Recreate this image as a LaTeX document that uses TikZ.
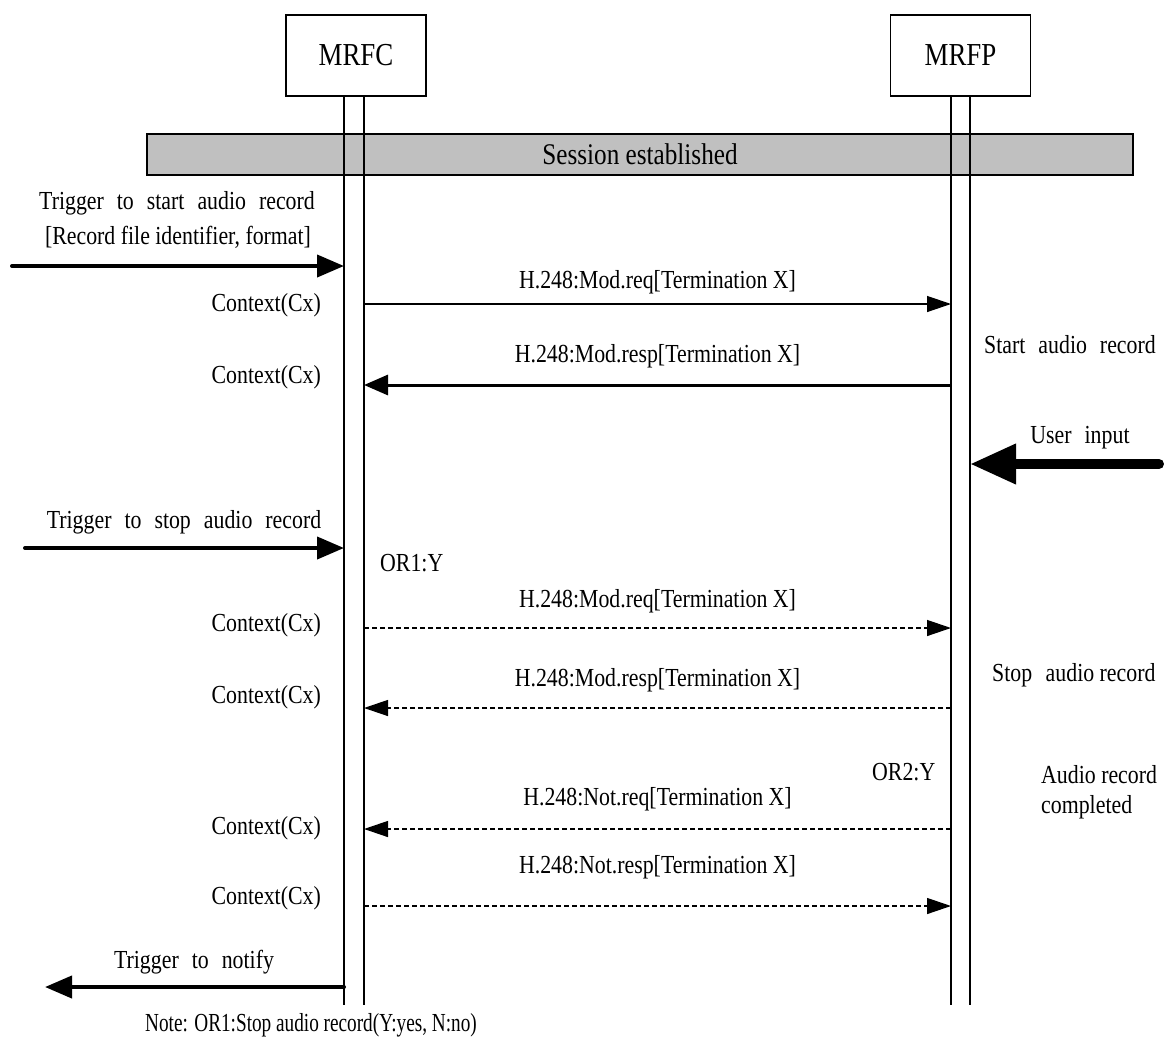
\documentclass[tikz,border=0pt]{standalone}
\usepackage{fontspec}
\setmainfont{Liberation Serif}[FakeStretch=0.84]
\newfontfamily\notefont{Liberation Serif}[FakeStretch=0.74]
\usetikzlibrary{positioning,arrows.meta}
\newcommand\widesp{\spaceskip 13pt\relax}

\begin{document}
\begin{tikzpicture}[x=1pt,y=-1pt]
	\tikzstyle{entity} = [rectangle, draw, line width=1.3pt, minimum width=140pt, minimum height=81pt, font=\fontsize{32}{36}\selectfont];
	\tikzstyle{bar} = [rectangle, draw, line width=1.3pt, fill={rgb,255:red,192;green,192;blue,192}, minimum width=986pt, minimum height=41pt, font=\fontsize{30}{34}\selectfont];
	\tikzstyle{txt} = [inner sep=0pt, font=\fontsize{26}{30}\selectfont];
	\tikzstyle{wide} = [inner sep=0pt, font=\fontsize{26}{30}\selectfont\widesp];
	\tikzstyle{life} = [draw, line width=1.3pt];
	\tikzstyle{msg} = [draw, line width=1.3pt, -{Triangle[length=24pt, width=16pt]}];
	\tikzstyle{dmsg} = [msg, dash pattern=on 5pt off 3pt];
	\tikzstyle{respmsg} = [draw, line width=3pt, -{Triangle[length=24pt, width=20pt]}];
	\tikzstyle{trigger} = [draw, line width=4pt, line cap=round, -{Triangle[length=27pt, width=22pt]}];
	\tikzstyle{userin} = [draw, line width=10pt, line cap=round, -{Triangle[length=46pt, width=38pt]}];
	\useasboundingbox (0,0) rectangle (1164,1039);
	% entities and session bar
	\node (mrfc) [entity] at (356,55.5) {MRFC};
	\node (mrfp) [entity] at (960.5,55.5) {MRFP};
	\node (session) [bar] at (640,154.5) {Session established};
	% lifelines
	\foreach \n/\x in {c1/344, c2/364, p1/951, p2/970} {
		\coordinate (\n) at (\x,96);
		\coordinate (\n end) at (\x,1005);
		\path [life] (\n) -- (\n end);
	}
	% message rows
	\coordinate (inA) at (12,266);
	\coordinate (r1) at (0,304);
	\coordinate (r2) at (0,385);
	\coordinate (inU) at (1159,464);
	\coordinate (inB) at (25,548);
	\coordinate (r3) at (0,628);
	\coordinate (r4) at (0,708);
	\coordinate (r5) at (0,829);
	\coordinate (r6) at (0,906);
	\coordinate (outN) at (45,987);
	\path [trigger] (inA) -- (c1 |- inA);
	\path [msg] (c2 |- r1) -- (p1 |- r1) node [txt, midway, yshift=22pt] {H.248:Mod.req[Termination X]};
	\path [respmsg] (p1 |- r2) -- (c2 |- r2) node [txt, midway, yshift=29pt] {H.248:Mod.resp[Termination X]};
	\path [userin] (inU) -- (p2 |- inU);
	\path [trigger] (inB) -- (c1 |- inB);
	\path [dmsg] (c2 |- r3) -- (p1 |- r3) node [txt, midway, yshift=27pt] {H.248:Mod.req[Termination X]};
	\path [dmsg] (p1 |- r4) -- (c2 |- r4) node [txt, midway, yshift=28pt] {H.248:Mod.resp[Termination X]};
	\path [dmsg] (p1 |- r5) -- (c2 |- r5) node [txt, midway, yshift=30pt] {H.248:Not.req[Termination X]};
	\path [dmsg] (c2 |- r6) -- (p1 |- r6) node [txt, midway, yshift=39pt] {H.248:Not.resp[Termination X]};
	\path [trigger] (c1 |- outN) -- (outN);
	% texts
	\node (trigA) [wide] at (177,203) {Trigger to start audio record};
	\node (trigAb) [txt] at (178,237) {[Record file identifier, format]};
	\node (trigB) [wide] at (184,522) {Trigger to stop audio record};
	\node (trigN) [wide] at (194,962) {Trigger to notify};
	\foreach \y [count=\i] in {305,377,625,697,828,898}
		\node (cx\i) [txt, anchor=east] at (321,\y) {Context(Cx)};
	\node (or1) [txt, anchor=west] at (380,563) {OR1:Y};
	\node (or2) [txt, anchor=west] at (872,772) {OR2:Y};
	\node (start) [wide, anchor=west] at (984,345) {Start audio record};
	\node (user) [wide] at (1080,438) {User input};
	\node (stop) [txt, anchor=west] at (992,675) {Stop\hspace{8pt} audio record};
	\node (done1) [txt, anchor=west] at (1041,775) {Audio record};
	\node (done2) [txt, anchor=west] at (1041,807) {completed};
	\node (note) [txt, font=\fontsize{26}{30}\notefont, anchor=west] at (145,1025) {Note: OR1:Stop audio record(Y:yes, N:no)};
\end{tikzpicture}
\end{document}
